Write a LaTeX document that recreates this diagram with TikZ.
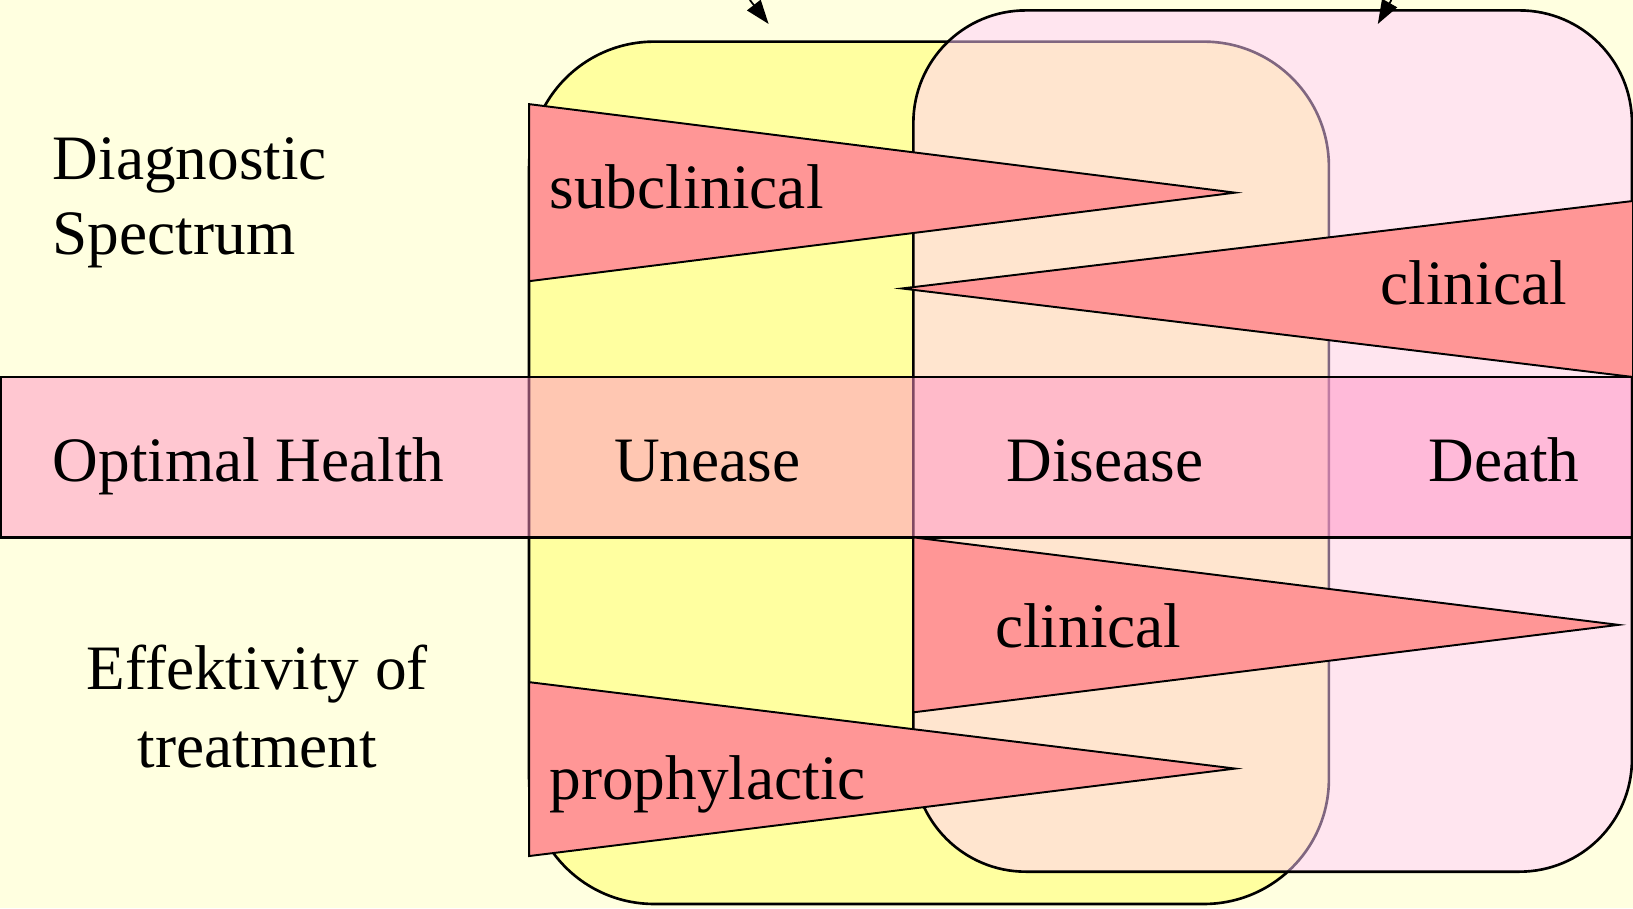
\documentclass[tikz,border=0pt]{standalone}
\usepackage{fontspec}
\setmainfont{Liberation Serif}
\usetikzlibrary{arrows.meta}
\definecolor{paper}{HTML}{FFFFE0}
\definecolor{uneasefill}{HTML}{FFFFA0}
\definecolor{diseasefill}{HTML}{FFCDFF}
\definecolor{bandfill}{HTML}{FF91C4}
\definecolor{wedgefill}{HTML}{FF9696}

\begin{document}
\begin{tikzpicture}[
    x=0.10415mm, y=-0.10415mm,
    font=\rmfamily\fontsize{18}{21.3}\selectfont,
    >={Triangle[length=2.4mm,width=1.7mm]},
    box/.style     = {draw=black, line width=0.75pt, rounded corners=12.5mm},
    band/.style    = {draw=black, line width=0.65pt, fill=bandfill, fill opacity=0.5},
    wedge/.style   = {draw=black, line width=0.55pt, fill=wedgefill},
    lbl/.style     = {inner sep=0pt, text=black},
    pointer/.style = {draw=black, line width=0.5pt, ->},
  ]

  \useasboundingbox (0,0) rectangle (1568,872);
  \fill[paper] (0,0) rectangle (1568,872);

  % ===================================================================
  % Stage boxes: unease (yellow) and disease (pink, see-through)
  % ===================================================================
  \draw[box, fill=uneasefill] (508,40) rectangle (1276,868);
  \draw[box, rounded corners=11.25mm, fill=diseasefill, fill opacity=0.5]
    (877,10) rectangle (1567,837);

  % pointers coming in from above
  \coordinate (ueTail) at (720,0);
  \coordinate (ueHead) at (738,23);
  \coordinate (diTail) at (1336,0);
  \coordinate (diHead) at (1323,23);
  \draw[pointer] (ueTail) -- (ueHead);
  \draw[pointer] (diTail) -- (diHead);

  % ===================================================================
  % Middle band: health -> death
  % ===================================================================
  \draw[band] (1,362) rectangle (1567,516);

  \node[lbl, anchor=base west] (health)  at (50,462)   {Optimal Health};
  \node[lbl, anchor=base]      (unease)  at (679,462)  {Unease};
  \node[lbl, anchor=base]      (disease) at (1061,462) {Disease};
  \node[lbl, anchor=base]      (death)   at (1444,462) {Death};

  % ===================================================================
  % Wedges (diagnostic spectrum above, treatment below)
  % ===================================================================
  \draw[wedge] (508,100) -- (1186,185) -- (508,270) -- cycle;
  \draw[wedge] (1568,193) -- (866,277) -- (1568,362) -- cycle;
  \draw[wedge] (877,516) -- (1554,600) -- (877,684) -- cycle;
  \draw[wedge] (508,655) -- (1186,738) -- (508,822) -- cycle;

  \node[lbl, anchor=base west] (subclin) at (527,200)  {subclinical};
  \node[lbl, anchor=base east] (clinTop) at (1505,292) {clinical};
  \node[lbl, anchor=base west] (clinBot) at (955,622)  {clinical};
  \node[lbl, anchor=base west] (proph)   at (527,768)  {prophylactic};

  % ----- row titles on the left -----
  \node[lbl, anchor=base west] (diagA) at (50,172)  {Diagnostic};
  \node[lbl, anchor=base west] (diagB) at (50,244)  {Spectrum};
  \node[lbl, anchor=base]      (effA)  at (247,662) {Effektivity of};
  \node[lbl, anchor=base]      (effB)  at (247,737) {treatment};

\end{tikzpicture}
\end{document}
